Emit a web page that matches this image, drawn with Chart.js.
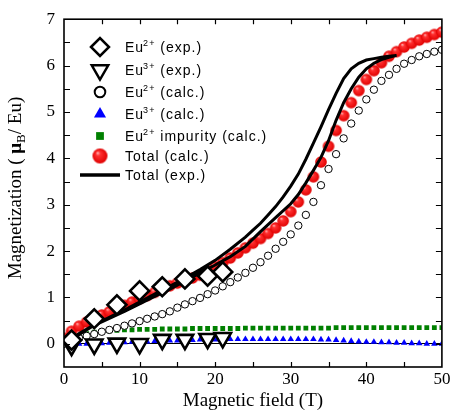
<!DOCTYPE html>
<html>
<head>
<meta charset="utf-8">
<script src="https://cdn.jsdelivr.net/npm/chart.js@4"></script>
<style>
  html, body { margin: 0; padding: 0; background: #fff; }
  #wrap { width: 454px; height: 414px; }
</style>
</head>
<body>
<div id="wrap"><canvas id="magChart" width="454" height="414"></canvas></div>
<script>
// ---- data ----
const expField = [1, 4, 7, 10, 13, 16, 19, 21];
const eu2Exp = [0.08, 0.54, 0.84, 1.14, 1.23, 1.40, 1.46, 1.55];
const eu3Exp = [-0.04, -0.01, 0.01, 0.0, 0.09, 0.09, 0.11, 0.13];

const calcField = [0, 1, 2, 3, 4, 5, 6, 7, 8, 9, 10, 11, 12, 13, 14, 15, 16, 17, 18, 19,
  20, 21, 22, 23, 24, 25, 26, 27, 28, 29, 30, 31, 32, 33, 34, 35, 36, 37, 38, 39,
  40, 41, 42, 43, 44, 45, 46, 47, 48, 49, 50];
const eu2Calc = [0, 0.06, 0.12, 0.17, 0.21, 0.26, 0.30, 0.34, 0.39, 0.44, 0.49, 0.54, 0.59, 0.64, 0.70, 0.78, 0.85, 0.92, 0.99, 1.07,
  1.15, 1.24, 1.33, 1.43, 1.53, 1.64, 1.76, 1.90, 2.05, 2.20, 2.36, 2.55, 2.78, 3.06, 3.42, 3.77, 4.09, 4.43, 4.75, 5.03,
  5.27, 5.48, 5.67, 5.80, 5.93, 6.04, 6.12, 6.20, 6.25, 6.30, 6.34];
const eu3Calc = [0, 0, 0, 0, 0, 0.01, 0.02, 0.02, 0.03, 0.04, 0.05, 0.05, 0.06, 0.06, 0.07, 0.07, 0.08, 0.08, 0.09, 0.09,
  0.09, 0.10, 0.10, 0.10, 0.10, 0.10, 0.10, 0.10, 0.10, 0.10, 0.10, 0.10, 0.10, 0.10, 0.09, 0.09, 0.08, 0.07, 0.06, 0.05,
  0.04, 0.04, 0.03, 0.03, 0.02, 0.02, 0.01, 0.01, 0, 0, 0];
const impurityCalc = [0, 0.10, 0.17, 0.22, 0.25, 0.27, 0.28, 0.29, 0.30, 0.30, 0.31, 0.31, 0.31, 0.32, 0.32, 0.32, 0.32, 0.33, 0.33, 0.33,
  0.33, 0.33, 0.33, 0.33, 0.34, 0.34, 0.34, 0.34, 0.34, 0.34, 0.34, 0.34, 0.34, 0.34, 0.34, 0.34, 0.35, 0.35, 0.35, 0.35,
  0.35, 0.35, 0.35, 0.35, 0.35, 0.35, 0.35, 0.35, 0.35, 0.35, 0.35];
const totalCalc = [0.12, 0.27, 0.38, 0.47, 0.55, 0.62, 0.69, 0.76, 0.83, 0.90, 0.97, 1.04, 1.11, 1.18, 1.25, 1.31, 1.36, 1.42, 1.48, 1.57,
  1.66, 1.75, 1.85, 1.96, 2.07, 2.17, 2.27, 2.38, 2.50, 2.65, 2.85, 3.06, 3.32, 3.60, 3.92, 4.26, 4.60, 4.92, 5.20, 5.46,
  5.70, 5.89, 6.06, 6.20, 6.30, 6.40, 6.48, 6.55, 6.61, 6.67, 6.72];

// measured total: field up-sweep then down-sweep (loop)
const totalExpField = [0.5, 2, 4, 6, 8, 10, 12, 14, 16, 18, 20, 22, 24, 26, 28, 30, 31, 32, 33, 34, 35, 36, 37, 38, 39, 40, 41, 42, 43, 44,
  43, 42, 41, 40, 39, 38, 37, 36, 35, 34, 33, 32, 31, 30, 29, 28, 27, 26, 25, 24, 22, 20, 18, 16, 14, 12, 10, 8, 6, 4, 2, 0.5];
const totalExp = [0.02, 0.20, 0.40, 0.55, 0.70, 0.86, 1.02, 1.18, 1.35, 1.53, 1.70, 1.88, 2.10, 2.42, 2.72, 3.02, 3.22, 3.47, 3.74, 4.02, 4.38, 4.82, 5.20, 5.50, 5.75, 5.93, 6.05, 6.13, 6.18, 6.22,
  6.20, 6.18, 6.15, 6.12, 6.05, 5.93, 5.72, 5.40, 5.05, 4.68, 4.33, 3.98, 3.66, 3.40, 3.17, 2.96, 2.78, 2.60, 2.45, 2.30, 2.04, 1.80, 1.60, 1.42, 1.24, 1.07, 0.90, 0.73, 0.57, 0.41, 0.22, 0.04];

const xTicks = [0, 10, 20, 30, 40, 50];
const yTicks = [0, 1, 2, 3, 4, 5, 6, 7];

const pairs = (xs, ys) => xs.map((v, i) => ({ x: v, y: ys[i] }));

// shaded red ball used for "Total (calc.)"
function makeSphere(r) {
    const c = document.createElement('canvas');
    const s = Math.ceil(r * 2 + 2);
    c.width = s; c.height = s;
    const g = c.getContext('2d');
    const m = s / 2;
    const grad = g.createRadialGradient(m - r * 0.35, m - r * 0.45, 0, m, m, r);
    grad.addColorStop(0, '#ffc8c8');
    grad.addColorStop(0.3, '#ff3030');
    grad.addColorStop(1, '#e00000');
    g.fillStyle = grad;
    g.beginPath();
    g.arc(m, m, r, 0, Math.PI * 2);
    g.fill();
    return c;
}
const sphereSmall = makeSphere(5.8);
const sphereBig = makeSphere(7.5);

const SERIF = '"Liberation Serif", "Times New Roman", serif';
const SANS = '"Liberation Sans", Arial, sans-serif';

// legend entries: [main, superscript, rest]
const legendLabels = [
    ['Eu', '2+', ' (exp.)'],
    ['Eu', '3+', ' (exp.)'],
    ['Eu', '2+', ' (calc.)'],
    ['Eu', '3+', ' (calc.)'],
    ['Eu', '2+', ' impurity (calc.)'],
    ['Total (calc.)', '', ''],
    ['Total (exp.)', '', '']
];
const legendMarkers = [
    { pointStyle: 'rectRot', radius: 9, rotation: 0, borderWidth: 2.5, fill: '#fff', stroke: '#000' },
    { pointStyle: 'triangle', radius: 9.5, rotation: 180, borderWidth: 2.5, fill: '#fff', stroke: '#000' },
    { pointStyle: 'circle', radius: 5.3, rotation: 0, borderWidth: 2, fill: '#fff', stroke: '#000' },
    { pointStyle: 'triangle', radius: 7, rotation: 0, borderWidth: 0, fill: '#0000ff', stroke: '#0000ff' },
    { pointStyle: 'rect', radius: 5.5, rotation: 0, borderWidth: 0, fill: '#008000', stroke: '#008000' },
    { pointStyle: sphereBig, radius: 7, rotation: 0, borderWidth: 0, fill: '#f00', stroke: '#f00' },
    { line: true }
];

const legendPlugin = {
    id: 'sketchLegend',
    afterDraw(chart) {
        const ctx = chart.ctx;
        const rows = [47, 70, 92, 114, 136, 156, 175];
        ctx.save();
        ctx.letterSpacing = '1px';
        legendLabels.forEach((lab, i) => {
            const y = rows[i];
            const mk = legendMarkers[i];
            if (mk.line) {
                ctx.strokeStyle = '#000';
                ctx.lineWidth = 3.3;
                ctx.beginPath();
                ctx.moveTo(80, y);
                ctx.lineTo(120, y);
                ctx.stroke();
            } else {
                ctx.fillStyle = mk.fill;
                ctx.strokeStyle = mk.stroke;
                ctx.lineWidth = mk.borderWidth;
                Chart.helpers.drawPoint(ctx, mk, 100, y);
            }
            ctx.fillStyle = '#000';
            ctx.textBaseline = 'alphabetic';
            let tx = 125;
            ctx.font = '14px ' + SANS;
            ctx.fillText(lab[0], tx, y + 5);
            tx += ctx.measureText(lab[0]).width;
            if (lab[1]) {
                ctx.font = '9px ' + SANS;
                ctx.fillText(lab[1], tx - 1, y - 1);
                tx += ctx.measureText(lab[1]).width - 1;
            }
            if (lab[2]) {
                ctx.font = '14px ' + SANS;
                ctx.fillText(lab[2], tx, y + 5);
            }
        });
        ctx.restore();
    }
};

// frame with inward ticks on all four sides
const framePlugin = {
    id: 'frameTicks',
    afterDatasetsDraw(chart) {
        const { ctx, chartArea: a, scales: { x, y } } = chart;
        ctx.save();
        ctx.strokeStyle = '#000';
        ctx.lineWidth = 1.2;
        ctx.beginPath();
        x.ticks.forEach(t => {
            if (t.value <= x.min || t.value >= x.max) return;
            const px = Math.round(x.getPixelForValue(t.value)) + 0.5;
            ctx.moveTo(px, a.bottom); ctx.lineTo(px, a.bottom - 5);
            ctx.moveTo(px, a.top); ctx.lineTo(px, a.top + 5);
        });
        y.ticks.forEach(t => {
            if (t.value <= y.min || t.value >= y.max) return;
            const py = Math.round(y.getPixelForValue(t.value)) + 0.5;
            ctx.moveTo(a.left, py); ctx.lineTo(a.left + 6, py);
            ctx.moveTo(a.right, py); ctx.lineTo(a.right - 6, py);
        });
        ctx.stroke();
        ctx.lineWidth = 1.6;
        ctx.strokeRect(a.left, a.top, a.right - a.left, a.bottom - a.top);
        ctx.restore();
    }
};

// y title with bold mu and subscript B
const yTitlePlugin = {
    id: 'yTitle',
    afterDraw(chart) {
        const ctx = chart.ctx;
        const parts = [
            { t: 'Magnetization ( ', f: '19px ' + SERIF, dy: 0 },
            { t: '\u03bc', f: 'bold 19px ' + SERIF, dy: 0 },
            { t: 'B', f: '13px ' + SERIF, dy: 4 },
            { t: '/ Eu)', f: '19px ' + SERIF, dy: 0 }
        ];
        ctx.save();
        let total = 0;
        parts.forEach(p => { ctx.font = p.f; p.w = ctx.measureText(p.t).width; total += p.w; });
        ctx.translate(21, 188);
        ctx.rotate(-Math.PI / 2);
        ctx.fillStyle = '#000';
        ctx.textBaseline = 'alphabetic';
        let tx = -total / 2;
        parts.forEach(p => {
            ctx.font = p.f;
            ctx.fillText(p.t, tx, p.dy);
            tx += p.w;
        });
        ctx.restore();
    }
};

new Chart(document.getElementById('magChart'), {
    type: 'scatter',
    data: {
        datasets: [
            {
                label: 'Eu2+ (exp.)',
                data: pairs(expField, eu2Exp),
                pointStyle: 'rectRot',
                pointRadius: 9.5,
                borderWidth: 2.6,
                borderColor: '#000',
                backgroundColor: '#fff',
                order: 0
            },
            {
                label: 'Eu3+ (exp.)',
                data: pairs(expField, eu3Exp),
                pointStyle: 'triangle',
                rotation: 180,
                pointRadius: 9.5,
                borderWidth: 2.6,
                borderColor: '#000',
                backgroundColor: '#fff',
                order: 1
            },
            {
                label: 'Eu2+ (calc.)',
                data: pairs(calcField, eu2Calc),
                pointStyle: 'circle',
                pointRadius: 3.7,
                borderWidth: 1,
                borderColor: '#000',
                backgroundColor: '#fff',
                order: 4
            },
            {
                label: 'Eu3+ (calc.)',
                data: pairs(calcField, eu3Calc),
                pointStyle: 'triangle',
                pointRadius: 3.8,
                borderWidth: 0,
                borderColor: '#0000ff',
                backgroundColor: '#0000ff',
                order: 6
            },
            {
                label: 'Eu2+ impurity (calc.)',
                data: pairs(calcField, impurityCalc),
                pointStyle: 'rect',
                pointRadius: 3.4,
                borderWidth: 0,
                borderColor: '#008000',
                backgroundColor: '#008000',
                order: 5
            },
            {
                label: 'Total (calc.)',
                data: pairs(calcField, totalCalc),
                pointStyle: sphereSmall,
                pointRadius: 5.8,
                order: 3
            },
            {
                label: 'Total (exp.)',
                data: pairs(totalExpField, totalExp),
                showLine: true,
                pointRadius: 0,
                borderColor: '#000',
                borderWidth: 3,
                tension: 0,
                order: 2
            }
        ]
    },
    options: {
        responsive: false,
        animation: false,
        events: [],
        layout: { padding: { left: 0, right: 8, top: 16, bottom: 0 } },
        plugins: {
            legend: { display: false },
            tooltip: { enabled: false }
        },
        scales: {
            x: {
                type: 'linear',
                min: 0,
                max: 50,
                afterFit: s => { s.height = 47; },
                afterBuildTicks: s => { s.ticks = [0, 5, 10, 15, 20, 25, 30, 35, 40, 45, 50].map(v => ({ value: v })); },
                grid: { display: false, drawTicks: false },
                border: { display: false },
                ticks: {
                    autoSkip: false,
                    maxRotation: 0,
                    padding: 2,
                    color: '#000',
                    font: { family: SERIF, size: 17 },
                    callback: v => (xTicks.includes(v) ? String(v) : '')
                },
                title: {
                    display: true,
                    text: 'Magnetic field (T)',
                    color: '#000',
                    font: { family: SERIF, size: 19 },
                    padding: { top: 0, bottom: 2 }
                }
            },
            y: {
                type: 'linear',
                min: -0.5,
                max: 7,
                afterFit: s => { s.width = 64; },
                afterBuildTicks: s => {
                    const t = [];
                    yTicks.forEach(v => { t.push({ value: v - 0.5 }); t.push({ value: v }); });
                    s.ticks = t;
                },
                grid: {
                    drawTicks: false,
                    lineWidth: 1,
                    color: c => (c.tick && c.tick.value === 0 ? '#000' : 'rgba(0,0,0,0)')
                },
                border: { display: false },
                ticks: {
                    autoSkip: false,
                    padding: 9,
                    color: '#000',
                    font: { family: SERIF, size: 17 },
                    callback: v => (yTicks.includes(v) ? String(v) : '')
                }
            }
        }
    },
    plugins: [framePlugin, yTitlePlugin, legendPlugin]
});
</script>
</body>
</html>
